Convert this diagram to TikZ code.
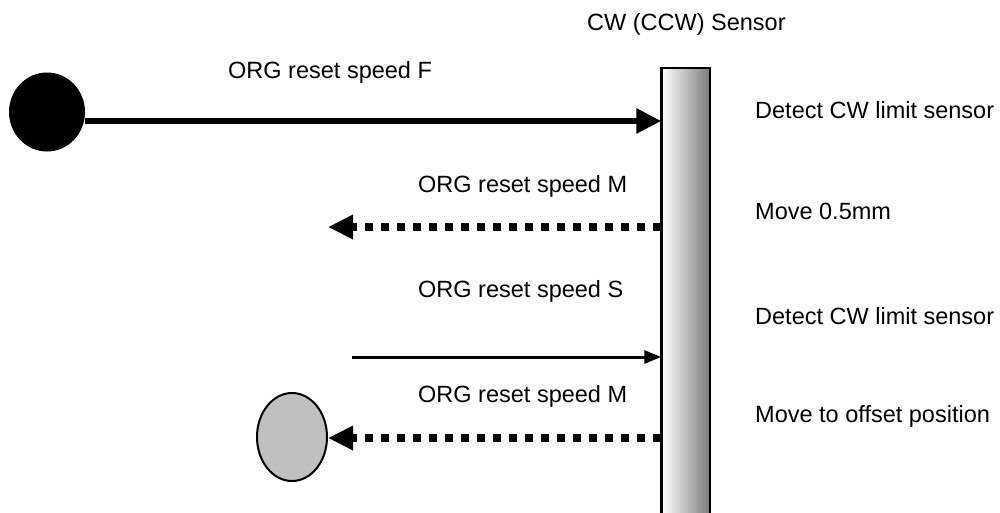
\documentclass[tikz,border=0pt]{standalone}
\usepackage{fontspec}
\setmainfont{Liberation Sans}
\usetikzlibrary{arrows.meta,shapes.geometric}
\definecolor{bargray}{HTML}{7A7A7A}
\definecolor{ballgray}{HTML}{C0C0C0}
\begin{document}
\begin{tikzpicture}[x=1pt,y=-1pt,
  lbl/.style={font=\fontsize{23.5}{28}\selectfont, inner sep=0pt, anchor=base west},
  sensorbar/.style={draw=black, line width=1.5pt, left color=white, right color=bargray, minimum width=48pt, minimum height=452pt, inner sep=0pt},
  ball/.style={ellipse, draw=black, line width=2pt, inner sep=0pt},
  thickarrow/.style={line width=6pt, -{Triangle[length=25pt,width=24pt]}},
  dotarrow/.style={line width=8pt, dash pattern=on 8pt off 8pt, -{Triangle[length=25pt,width=23pt]}},
  thinarrow/.style={line width=3pt, -{Triangle[length=17pt,width=13pt]}}]
\useasboundingbox (0,0) rectangle (1000,512);
\clip (0,0) rectangle (1000,512);
% sensor bar
\node[sensorbar] (bar) at (686,294) {};
\draw[line width=3pt] (bar.north west) -- (bar.south west);
% balls
\node[ball, fill=black, minimum width=74pt, minimum height=77pt] (start) at (47,112) {};
\node[ball, fill=ballgray, minimum width=70pt, minimum height=88pt] (finish) at (292,437) {};
% arrow end points
\coordinate (a1) at (bar.west |- 0,121);
\coordinate (a2s) at (bar.west |- 0,227);
\coordinate (a2e) at (328,227);
\coordinate (a3s) at (352,357);
\coordinate (a3e) at (bar.west |- 0,357);
\coordinate (a4s) at (bar.west |- 0,438);
% arrows
\draw[thickarrow] (start.east |- a1) -- (a1);
\draw[dotarrow] (a2s) -- (a2e);
\draw[thinarrow] (a3s) -- (a3e);
\draw[dotarrow] (a4s) -- (finish.east |- a4s);
% labels
\node[lbl] (title) at (587,30) {CW (CCW) Sensor};
\node[lbl] (lF) at (228,78) {ORG reset speed F};
\node[lbl] (lM1) at (418,192) {ORG reset speed M};
\node[lbl] (lS) at (418,297) {ORG reset speed S};
\node[lbl] (lM2) at (418,402) {ORG reset speed M};
\node[lbl] (r1) at (755,118) {Detect CW limit sensor};
\node[lbl] (r2) at (755,219) {Move 0.5mm};
\node[lbl] (r3) at (755,324) {Detect CW limit sensor};
\node[lbl] (r4) at (755,422) {Move to offset position};
\end{tikzpicture}
\end{document}
